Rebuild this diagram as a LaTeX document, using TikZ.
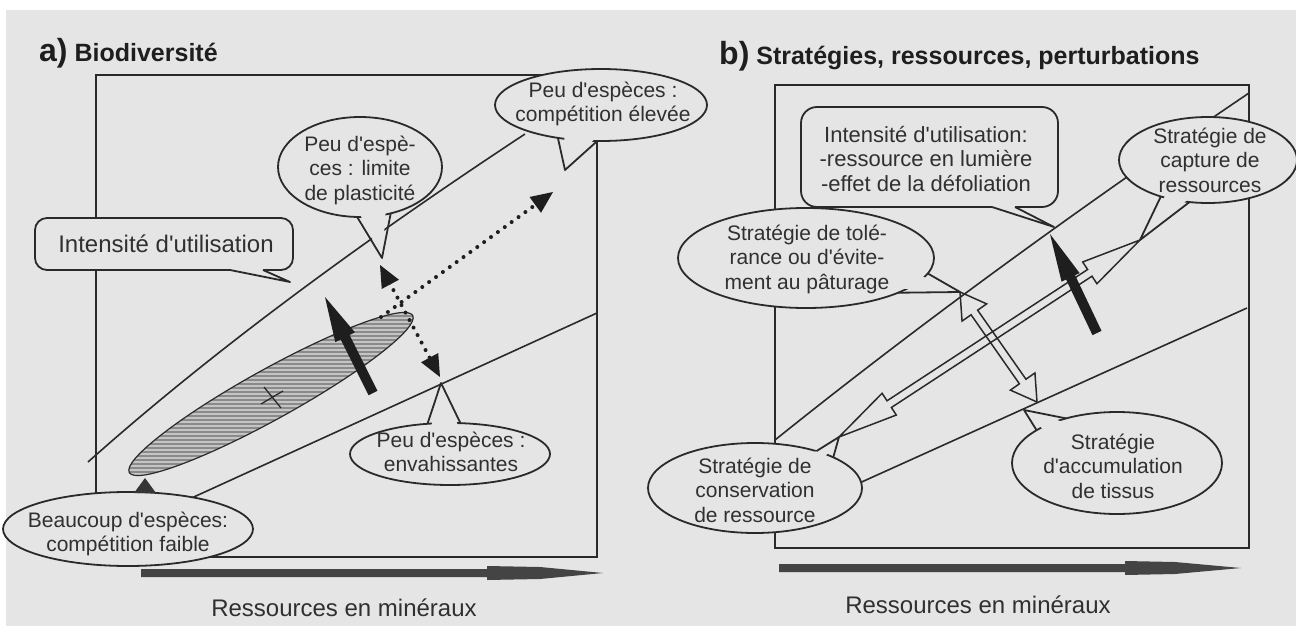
\documentclass[tikz,border=0pt]{standalone}
\usepackage{fontspec}
\setmainfont{Liberation Sans}
\usetikzlibrary{calc}
\definecolor{bgc}{RGB}{229,229,229}
\definecolor{ink}{RGB}{42,42,42}
\definecolor{txtc}{RGB}{48,48,48}
\definecolor{dk}{RGB}{30,30,30}
\definecolor{hatchbase}{RGB}{138,138,138}
\definecolor{hatchline}{RGB}{196,196,196}
\definecolor{axisc}{RGB}{68,68,68}
\newcommand\apo{\textquotesingle}
% callout ellipse: name, centre, rx, ry, angle1, angle2, tail tip
\newcommand\bulle[7]{%
  \coordinate (#1) at (#2);
  \coordinate (#1-tip) at (#7);
  \filldraw[bub] (#1) ellipse [x radius=#3pt, y radius=#4pt];
  \path (#1) ++(#5:#3pt and #4pt) coordinate (#1-b1);
  \path (#1) ++(#6:#3pt and #4pt) coordinate (#1-b2);
  \fill[bgc] ($(#1)!0.85!(#1-b1)$) -- (#1-tip) -- ($(#1)!0.85!(#1-b2)$) -- cycle;
  \draw[bubline] (#1-b1) -- (#1-tip) -- (#1-b2);
}
% hollow double-headed block arrow: start, end, head length, head half width, shaft half width
\newcommand\blocfleche[5]{%
  \coordinate (bf-s) at ($(#1)!#3!(#2)$);
  \coordinate (bf-e) at ($(#2)!#3!(#1)$);
  \draw[hollow] (#2) -- ($(bf-e)!#4!90:(#1)$) -- ($(bf-e)!#5!90:(#1)$)
    -- ($(bf-s)!#5!-90:(#2)$) -- ($(bf-s)!#4!-90:(#2)$) -- (#1)
    -- ($(bf-s)!#4!90:(#2)$) -- ($(bf-s)!#5!90:(#2)$)
    -- ($(bf-e)!#5!-90:(#1)$) -- ($(bf-e)!#4!-90:(#1)$) -- cycle;
}
% solid black arrow: tail, tip, head length, head half width, shaft half width
\newcommand\grossefleche[5]{%
  \coordinate (gf-h) at ($(#2)!#3!(#1)$);
  \fill[dk] (#2) -- ($(gf-h)!#4!90:(#1)$) -- ($(gf-h)!#5!90:(#1)$)
    -- ($(#1)!#5!-90:(#2)$) -- ($(#1)!#5!90:(#2)$)
    -- ($(gf-h)!#5!-90:(#1)$) -- ($(gf-h)!#4!-90:(#1)$) -- cycle;
}
% small filled arrowhead: back point, tip
\newcommand\pointe[2]{\fill[dk] (#2) -- ($(#2)!24pt!24:(#1)$) -- ($(#2)!24pt!-24:(#1)$) -- cycle;}

\begin{document}
\begin{tikzpicture}[x=1pt,y=-1pt,
  ln/.style={draw=ink, line width=1.6pt},
  bub/.style={draw=ink, line width=1.8pt, fill=bgc},
  bubline/.style={draw=ink, line width=1.8pt, line join=round},
  hollow/.style={draw=ink, line width=1.5pt, line join=miter},
  txt/.style={align=center, inner sep=0pt, text=txtc, font=\fontsize{21}{24.5}\selectfont},
  dotline/.style={draw=dk, line width=4pt, dash pattern=on 0pt off 8.5pt, line cap=round}]
\useasboundingbox (0,0) rectangle (1296,626);
\fill[white] (0,0) rectangle (1296,626);
\fill[bgc] (6,10) rectangle (1296,626);

% ---------------- panel a ----------------
\node[anchor=base west, inner sep=0pt, text=dk, font=\bfseries\fontsize{25}{28}\selectfont] (ta) at (39,62) {{\fontsize{32}{32}\selectfont a)} Biodiversité};
\draw[ln] (96,75) rectangle (597,557);
\coordinate (ua0) at (88,462);
\coordinate (ua1) at (525,134);
\draw[ln] (ua0) .. controls (207,356) and (352,248) .. (ua1);
\coordinate (la0) at (185,501);
\coordinate (la1) at (597,313);
\draw[ln] (la0) -- (la1);

% callouts a
\draw[bub, rounded corners=12pt] (35,218) rectangle (293,270);
\coordinate (ia-tip) at (290,282);
\fill[bgc] (230,264) -- (230,270) -- (ia-tip) -- (263,270) -- (263,264) -- cycle;
\draw[bubline] (230,270) -- (ia-tip) -- (263,270);
\node[txt, font=\fontsize{24}{28}\selectfont] (ia) at (166,244) {Intensité d\apo utilisation};

\bulle{be}{601,105}{106}{36}{246}{268}{565,170}
\node[txt] (be-t) at (603,104) {Peu d\apo espèces :\\compétition élevée};

\bulle{bl}{360,167}{82}{50}{268}{292}{382,258}
\node[txt] (bl-t) at (360,170) {Peu d\apo espè-\\ces : limite\\de plasticité};

\bulle{bv}{450,454}{100}{31}{103}{84}{441,383}
\node[txt] (bv-t) at (451,452) {Peu d\apo espèces :\\envahissantes};

\filldraw[bub] (128,529) ellipse [x radius=125pt, y radius=37pt];
\node[txt] (bc-t) at (128,534) {Beaucoup d\apo espèces:\\compétition faible};

% hatched ellipse
\begin{scope}[shift={(271,394)}, rotate=29]
  \clip (0,0) ellipse [x radius=162pt, y radius=25pt];
  \fill[hatchbase] (-170,-30) rectangle (170,30);
  \begin{scope}[rotate=-29]
    \foreach \k in {-100,-96,...,100} \draw[hatchline, line width=1.5pt] (-200,\k) -- (200,\k);
  \end{scope}
\end{scope}
\draw[ink, line width=1.2pt, shift={(271,394)}, rotate=29] (0,0) ellipse [x radius=162pt, y radius=25pt];
\draw[ink, line width=1.3pt] (264,387) -- (281,408) (261,404) -- (283,391);
\coordinate (tri) at (145,478);
\fill[dk!90] (tri) -- (134,493) -- (156,493) -- cycle;

% dotted arrows
\coordinate (d1a) at (380,265);
\coordinate (d1b) at (440,377);
\coordinate (d2a) at (381,317);
\coordinate (d2b) at (553,192);
\draw[dotline] ($(d1a)!20pt!(d1b)$) -- ($(d1b)!20pt!(d1a)$);
\draw[dotline] (d2a) -- ($(d2b)!20pt!(d2a)$);
\pointe{d1b}{d1a}
\pointe{d1a}{d1b}
\pointe{d2a}{d2b}

% big black arrow a
\coordinate (ga0) at (373,393);
\coordinate (ga1) at (325,297);
\grossefleche{ga0}{ga1}{45pt}{11pt}{5pt}

% axis arrow a
\coordinate (axa0) at (141,573);
\coordinate (axa1) at (603,573);
\fill[axisc] (axa0) ++(0,-4) -- (487,569) -- (487,566) -- (540,567) -- (axa1) -- (540,579) -- (487,580) -- (487,577) -- (141,577) -- cycle;
\node[txt, font=\fontsize{24}{28}\selectfont] (xa) at (344,608) {Ressources en minéraux};

% ---------------- panel b ----------------
\node[anchor=base west, inner sep=0pt, text=dk, font=\bfseries\fontsize{25}{28}\selectfont] (tb) at (719,64) {{\fontsize{32}{32}\selectfont b)} Stratégies, ressources, perturbations};
\draw[ln] (775,85) rectangle (1249,548);
\coordinate (ub0) at (775,440);
\coordinate (ub1) at (1249,93);
\draw[ln] (ub0) .. controls (912,330) and (1070,214) .. (ub1);
\coordinate (lb0) at (855,485);
\coordinate (lb1) at (1247,308);
\draw[ln] (lb0) -- (lb1);

\draw[bub, rounded corners=16pt] (801,107) rectangle (1058,207);
\coordinate (ib-tip) at (1054,227);
\fill[bgc] (992,201) -- (992,207) -- (ib-tip) -- (1015,207) -- (1015,201) -- cycle;
\draw[bubline] (992,207) -- (ib-tip) -- (1015,207);
\node[txt, font=\fontsize{22}{24.5}\selectfont] (ib) at (926,159) {Intensité d\apo utilisation:\\-ressource en lumière\\-effet de la défoliation};

\bulle{bt}{806,258}{128}{50}{342}{316}{960,292}
\node[txt] (bt-t) at (807,259) {Stratégie de tolé-\\rance ou d\apo évite-\\ment au pâturage};

\bulle{bk}{1208,160}{89}{43}{238}{258}{1140,240}
\node[txt] (bk-t) at (1210,160) {Stratégie de\\capture de\\ressources};

\bulle{bn}{755,488}{107}{45}{55}{43}{839,437}
\node[txt] (bn-t) at (755,490) {Stratégie de\\conservation\\de ressource};

\bulle{ba}{1117,463}{105}{51}{140}{119}{1024,410}
\node[txt] (ba-t) at (1113,466) {Stratégie\\d\apo accumulation\\de tissus};

% hollow arrows
\blocfleche{bn-tip}{bk-tip}{60pt}{13pt}{4pt}
\coordinate (a1e) at (1037,402);
\blocfleche{bt-tip}{a1e}{25pt}{15pt}{4pt}

% black arrow b
\coordinate (gb0) at (1097,333);
\coordinate (gb1) at (1050,234);
\grossefleche{gb0}{gb1}{48pt}{10pt}{5pt}

% axis arrow b
\coordinate (axb0) at (779,568);
\coordinate (axb1) at (1241,568);
\fill[axisc] (axb0) ++(0,-4) -- (1125,564) -- (1125,561) -- (1175,562) -- (axb1) -- (1175,574) -- (1125,575) -- (1125,572) -- (779,572) -- cycle;
\node[txt, font=\fontsize{24}{28}\selectfont] (xb) at (978,605) {Ressources en minéraux};
\end{tikzpicture}
\end{document}
